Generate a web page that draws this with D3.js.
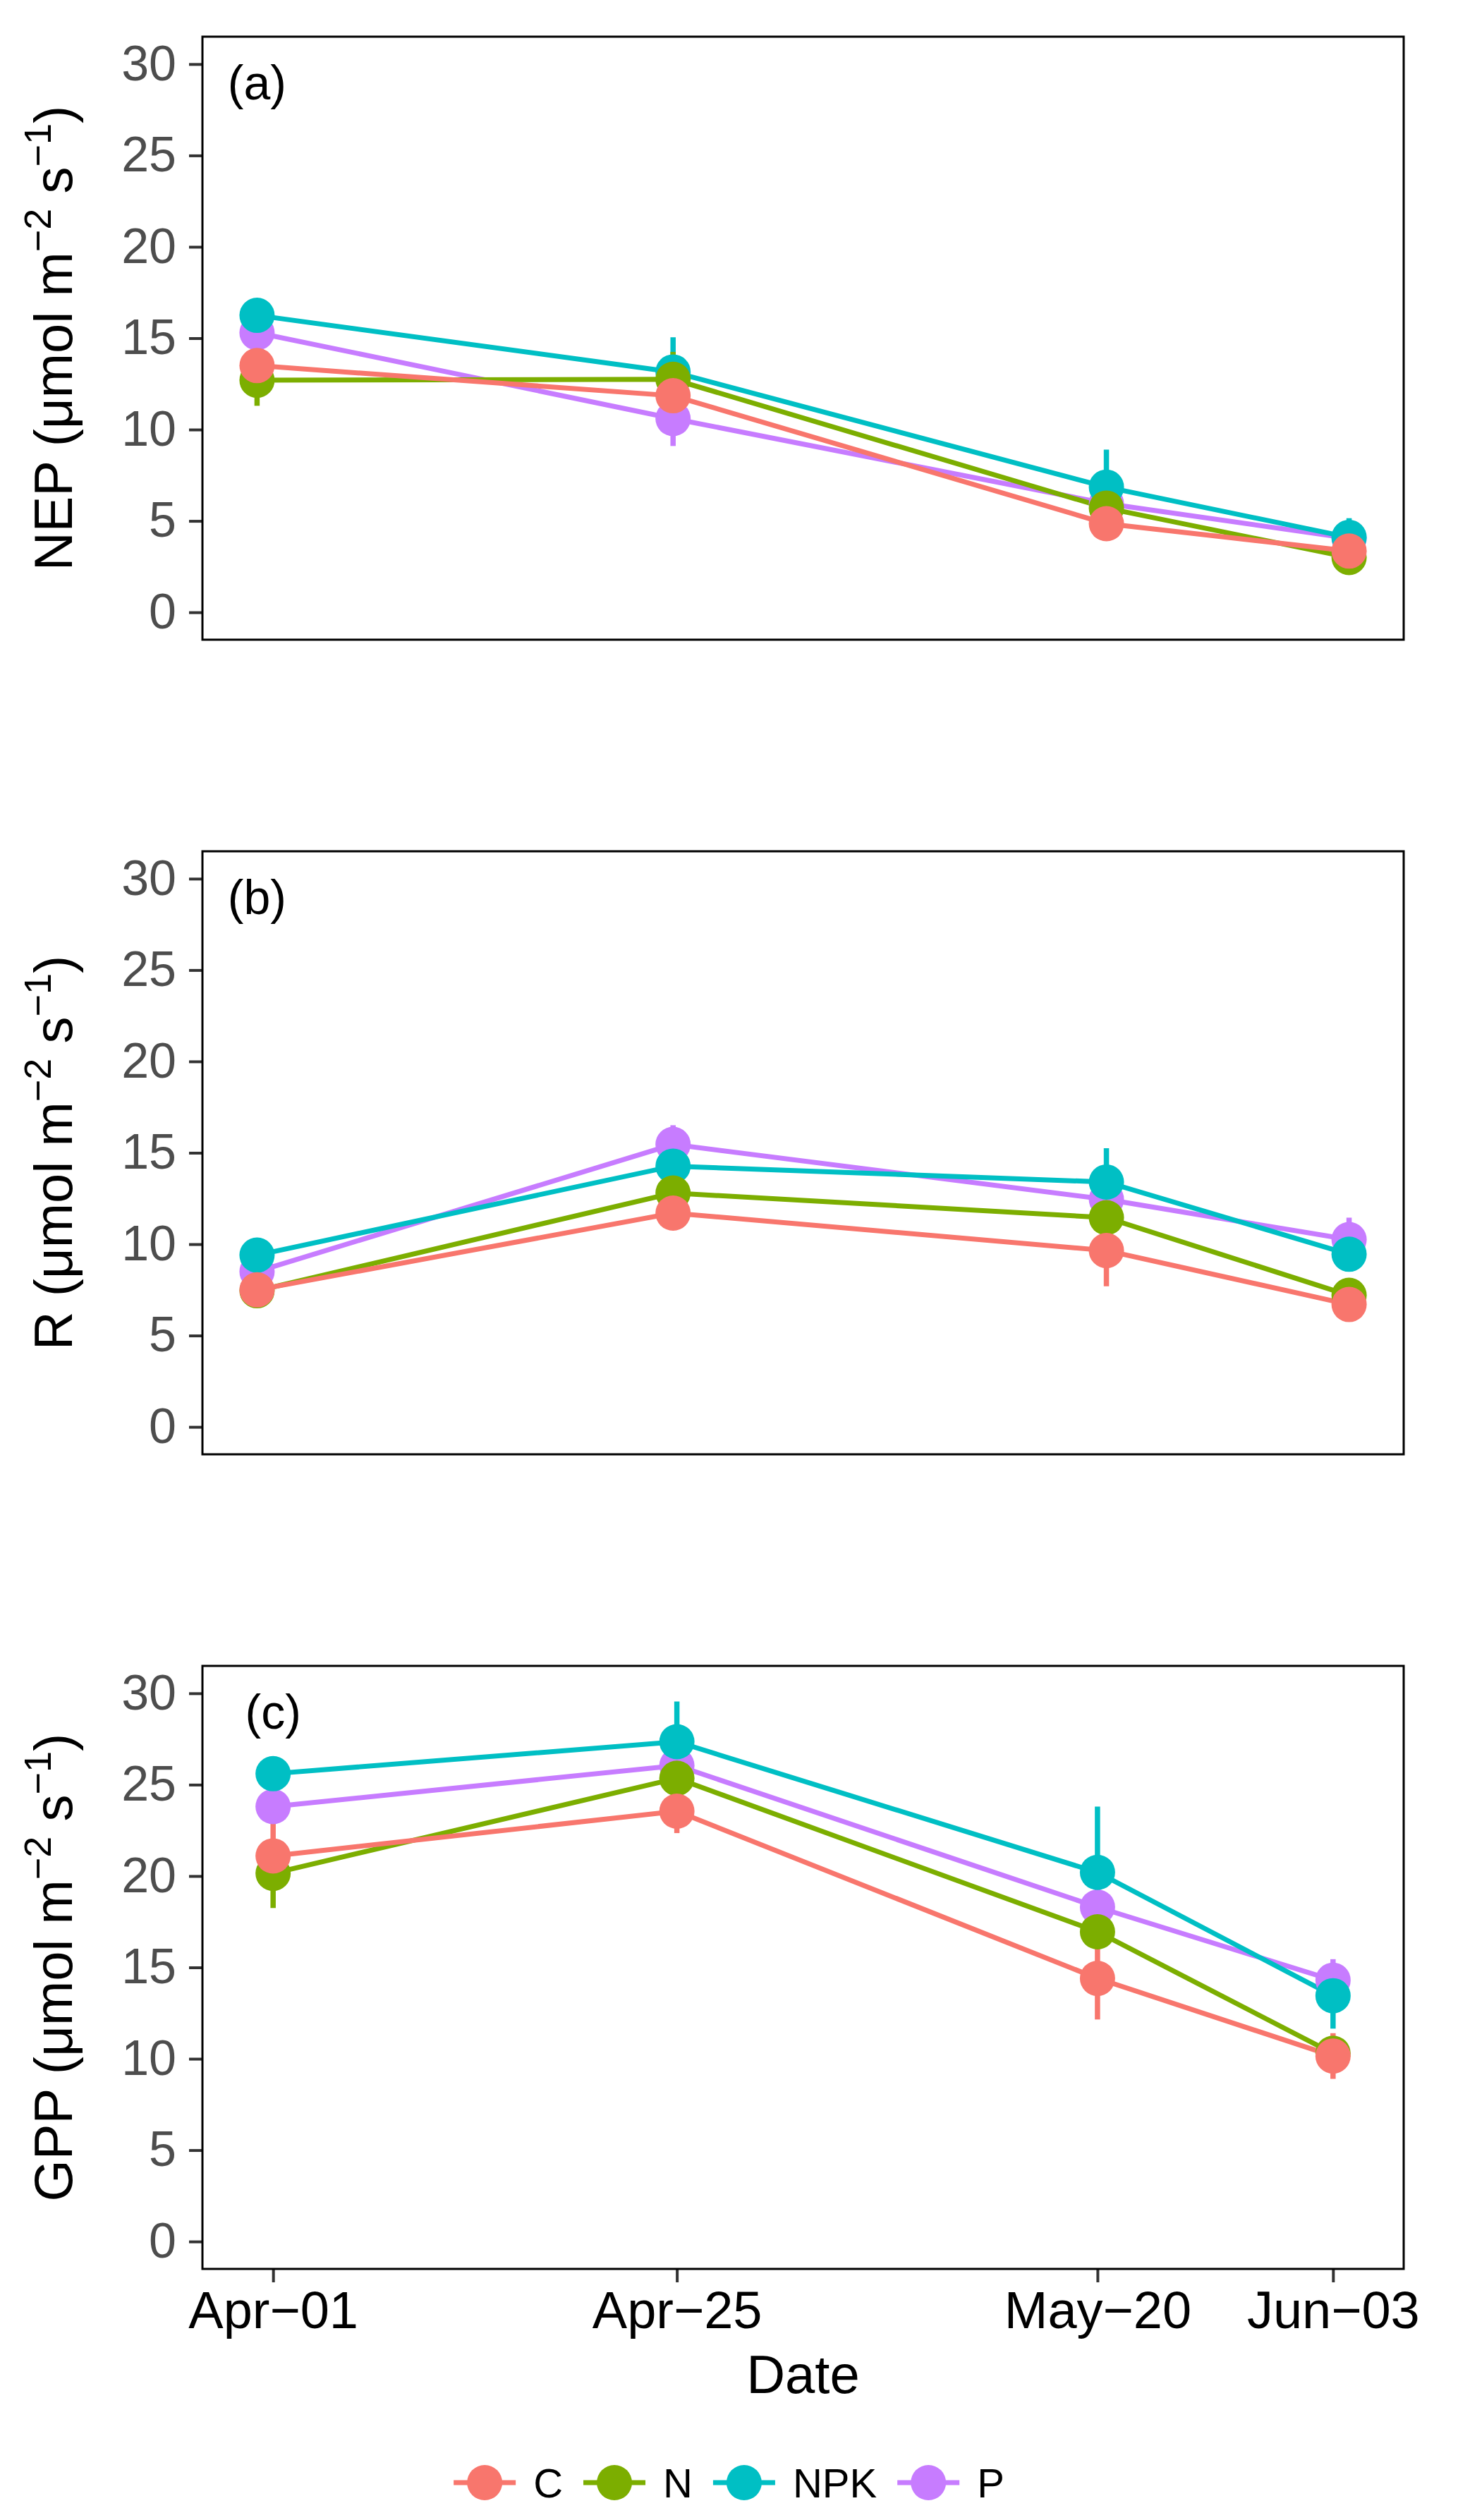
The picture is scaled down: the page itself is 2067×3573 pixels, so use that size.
<!DOCTYPE html>
<html>
<head>
<meta charset="utf-8">
<script src="https://cdn.jsdelivr.net/npm/d3@7"></script>
<style>
body { margin: 0; background: #fff; }
text { font-family: "Liberation Sans", Arial, sans-serif; }
</style>
</head>
<body>
<svg id="svg_chart" width="2067" height="3573"></svg>
<script>

// ---- data ----
var dates = ["2017-04-01", "2017-04-25", "2017-05-20", "2017-06-03"];
var tick_labels = ["Apr\u221201", "Apr\u221225", "May\u221220", "Jun\u221203"];
var treatments = ["C", "N", "NPK", "P"];
var colours = ["#F8766D", "#7CAE00", "#00BFC4", "#C77CFF"];
var y_ticks = [0, 5, 10, 15, 20, 25, 30];
var panel_tags = ["(a)", "(b)", "(c)"];
var y_names = ["NEP", "R", "GPP"];

// one row per treatment: C, N, NPK, P
var nep_mean = [[13.5, 11.85, 4.85, 3.35], [12.7, 12.75, 5.7, 3.0], [16.25, 13.15, 6.85, 4.1], [15.3, 10.6, 5.95, 4.05]];
var nep_se   = [[0.6, 0.8, 0.6, 0.5], [1.4, 1.5, 0.7, 0.5], [0.5, 1.9, 2.05, 1.05], [0.6, 1.5, 0.6, 0.6]];

var r_mean = [[7.5, 11.7, 9.65, 6.7], [7.45, 12.8, 11.45, 7.2], [9.4, 14.27, 13.4, 9.45], [8.5, 15.46, 12.45, 10.25]];
var r_se   = [[0.4, 0.5, 1.95, 0.5], [0.4, 0.6, 0.6, 0.5], [0.5, 0.7, 1.85, 0.7], [0.5, 1.05, 0.8, 1.2]];

var gpp_mean = [[21.1, 23.55, 14.4, 10.15], [20.15, 25.35, 16.95, 10.3], [25.6, 27.35, 20.2, 13.45], [23.8, 26.05, 18.3, 14.3]];
var gpp_se   = [[1.8, 1.2, 2.25, 1.25], [1.9, 0.7, 0.8, 0.6], [0.6, 2.2, 3.6, 1.8], [0.7, 0.6, 0.8, 1.15]];

// ---- geometry ----
var panel_left = 287,
    panel_right = 1990,
    panel_tops = [52, 1207, 2362],
    panel_h = 855;

// x padding in days (ggplot expansion; the bottom panel has a bit more)
var x_pads = [3.15, 3.15, 4.2];

var day_ms = 864e5;
var pt_r = 25;
var line_w = 7;

// drawing order: P, NPK, N, C  (C ends on top)
var draw_order = [3, 2, 1, 0];

var parse_date = d3.utcParse("%Y-%m-%d");
var date_objs = dates.map(parse_date);

var svg = d3.select("#svg_chart");

function fn_draw_panel(i, means, ses) {
	var top = panel_tops[i];
	var pad = x_pads[i];

	var x = d3.scaleUtc()
	    .domain([new Date(+date_objs[0] - pad * day_ms), new Date(+date_objs[3] + pad * day_ms)])
	    .range([panel_left, panel_right]);

	var y = d3.scaleLinear()
	    .domain([-1.5, 31.5])
	    .range([top + panel_h, top]);

	var g = svg.append("g").attr("class", "panel");

	// y axis
	var gy = g.append("g")
	    .attr("transform", "translate(" + panel_left + ",0)")
	    .call(d3.axisLeft(y).tickValues(y_ticks).tickSize(19).tickPadding(18));
	gy.select(".domain").remove();
	gy.selectAll(".tick line").attr("stroke", "#333333").attr("stroke-width", 4);
	gy.selectAll(".tick text")
	    .attr("fill", "#4D4D4D")
	    .attr("font-size", 70)
	    .attr("font-family", "Liberation Sans, Arial, sans-serif");

	// x axis only on the bottom panel
	if (i == 2) {
		var gx = g.append("g")
		    .attr("transform", "translate(0," + (top + panel_h) + ")")
		    .call(d3.axisBottom(x).tickValues(date_objs).tickSize(19).tickPadding(12)
		        .tickFormat(function(d, k) { return tick_labels[k]; }));
		gx.select(".domain").remove();
		gx.selectAll(".tick line").attr("stroke", "#333333").attr("stroke-width", 4);
		gx.selectAll(".tick text")
		    .attr("fill", "#000")
		    .attr("font-size", 74)
		    .attr("font-family", "Liberation Sans, Arial, sans-serif");
	}

	// error bars
	draw_order.forEach(function(s) {
		g.selectAll(null)
		    .data(means[s].map(function(m, k) { return {d: date_objs[k], m: m, se: ses[s][k]}; }))
		    .enter().append("line")
		    .attr("x1", function(d) { return x(d.d); })
		    .attr("x2", function(d) { return x(d.d); })
		    .attr("y1", function(d) { return y(d.m - d.se); })
		    .attr("y2", function(d) { return y(d.m + d.se); })
		    .attr("stroke", colours[s])
		    .attr("stroke-width", line_w + 0.5);
	});

	// lines
	var line = d3.line()
	    .x(function(d, k) { return x(date_objs[k]); })
	    .y(function(d) { return y(d); });

	draw_order.forEach(function(s) {
		g.append("path")
		    .attr("d", line(means[s]))
		    .attr("fill", "none")
		    .attr("stroke", colours[s])
		    .attr("stroke-width", line_w);
	});

	// points
	draw_order.forEach(function(s) {
		g.selectAll(null)
		    .data(means[s])
		    .enter().append("circle")
		    .attr("cx", function(d, k) { return x(date_objs[k]); })
		    .attr("cy", function(d) { return y(d); })
		    .attr("r", pt_r)
		    .attr("fill", colours[s]);
	});

	// panel border
	g.append("rect")
	    .attr("x", panel_left)
	    .attr("y", top)
	    .attr("width", panel_right - panel_left)
	    .attr("height", panel_h)
	    .attr("fill", "none")
	    .attr("stroke", "#000")
	    .attr("stroke-width", 3);

	// panel tag, centred over the first date
	g.append("text")
	    .attr("x", x(date_objs[0]))
	    .attr("y", top + 89)
	    .attr("text-anchor", "middle")
	    .attr("font-size", 68)
	    .attr("fill", "#000")
	    .text(panel_tags[i]);

	// y title with superscripts
	var t = g.append("text")
	    .attr("transform", "translate(102," + (top + panel_h / 2) + ") rotate(-90)")
	    .attr("text-anchor", "middle")
	    .attr("font-size", 76)
	    .attr("fill", "#000");
	t.append("tspan").text(y_names[i] + " (\u03bcmol m");
	t.append("tspan").attr("font-size", 54).attr("dy", -30).text("\u22122");
	t.append("tspan").attr("dy", 30).text(" s");
	t.append("tspan").attr("font-size", 54).attr("dy", -30).text("\u22121");
	t.append("tspan").attr("dy", 30).text(")");
}

fn_draw_panel(0, nep_mean, nep_se);
fn_draw_panel(1, r_mean, r_se);
fn_draw_panel(2, gpp_mean, gpp_se);

// x title
svg.append("text")
    .attr("x", (panel_left + panel_right) / 2)
    .attr("y", 3393)
    .attr("text-anchor", "middle")
    .attr("font-size", 76)
    .attr("fill", "#000")
    .text("Date");

// ---- legend ----
var legend_y = 3520;
var key_w = 88, key_gap = 25, item_gap = 29;
var g_leg = svg.append("g").attr("class", "legend");

var cursor = 0;
treatments.forEach(function(name, s) {
	var item = g_leg.append("g").attr("transform", "translate(" + cursor + ",0)");
	item.append("line")
	    .attr("x1", 0).attr("x2", key_w)
	    .attr("y1", legend_y).attr("y2", legend_y)
	    .attr("stroke", colours[s])
	    .attr("stroke-width", line_w);
	item.append("circle")
	    .attr("cx", key_w / 2)
	    .attr("cy", legend_y)
	    .attr("r", pt_r)
	    .attr("fill", colours[s]);
	var lbl = item.append("text")
	    .attr("x", key_w + key_gap)
	    .attr("y", legend_y + 21)
	    .attr("font-size", 58)
	    .attr("fill", "#000")
	    .text(name);
	cursor += key_w + key_gap + lbl.node().getComputedTextLength() + item_gap;
});
var legend_w = cursor - item_gap;
g_leg.attr("transform", "translate(" + (2067 / 2 - legend_w / 2) + ",0)");

</script>
</body>
</html>
